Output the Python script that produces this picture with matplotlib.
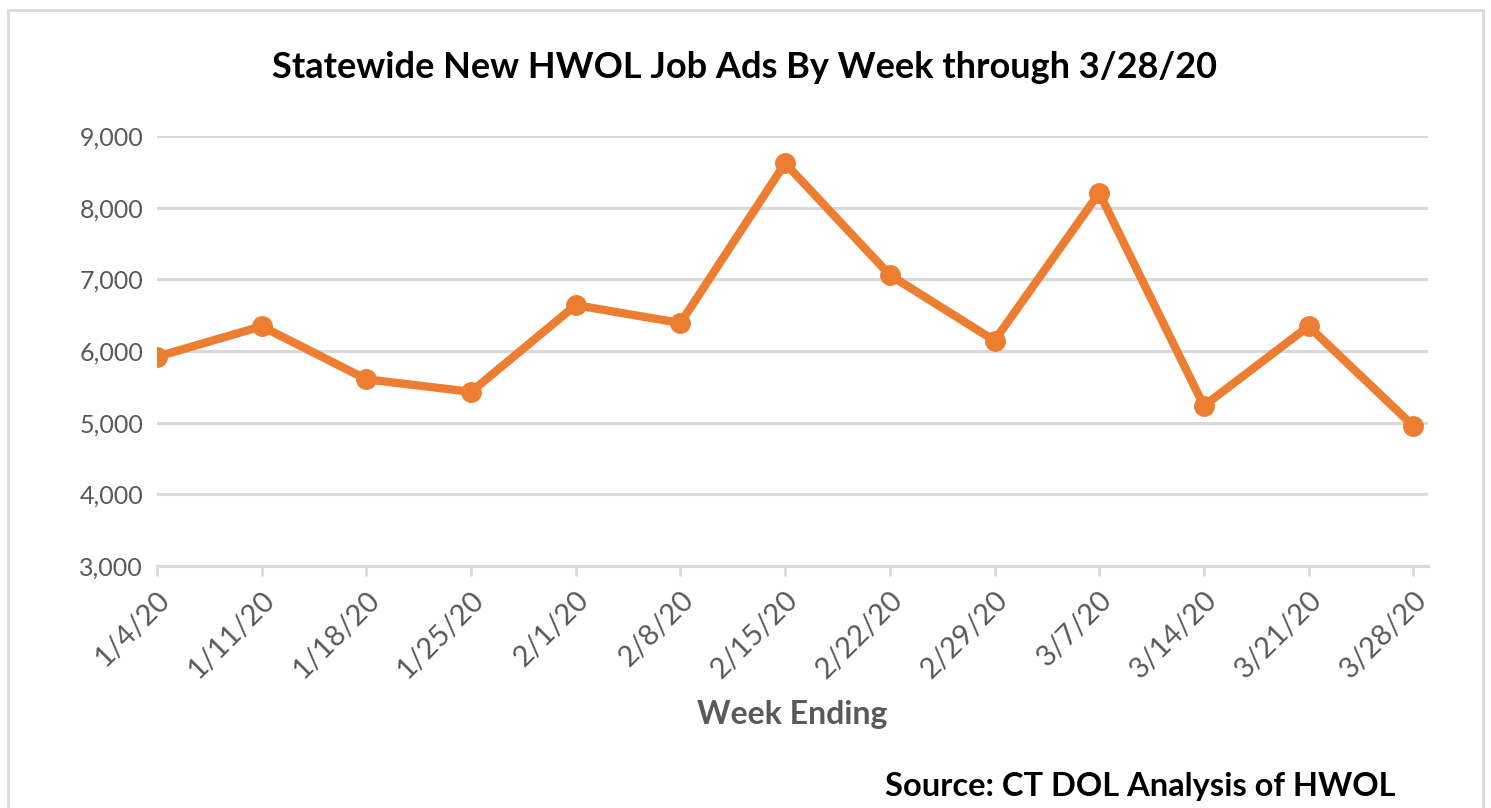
import matplotlib
matplotlib.use("Agg")
from matplotlib import pyplot as plt
from matplotlib.patches import Rectangle
from matplotlib.ticker import FuncFormatter

# data
weeks = ['1/4/20', '1/11/20', '1/18/20', '1/25/20', '2/1/20', '2/8/20', '2/15/20',
         '2/22/20', '2/29/20', '3/7/20', '3/14/20', '3/21/20', '3/28/20']
job_ads = [5920, 6345, 5605, 5430, 6640, 6390, 8620, 7060, 6145, 8205, 5235, 6345, 4955]

orange = '#ED7D31'
gray_text = '#595959'
grid_gray = '#D9D9D9'

plt.rcParams['font.family'] = ['Lato', 'DejaVu Sans']

fig = plt.figure(figsize=(14.91, 8.08), dpi=100)
ax = fig.add_axes([0.1053, 0.2995, 0.9577 - 0.1053, 0.8317 - 0.2995])

x = range(len(weeks))
ax.plot(x, job_ads, color=orange, linewidth=6, marker='o', markersize=14,
        solid_joinstyle='round', zorder=3)

ax.set_xlim(0, 12.14)
ax.set_ylim(3000, 9000)
ax.set_yticks(range(3000, 9001, 1000))
ax.yaxis.set_major_formatter(FuncFormatter(lambda v, p: '{:,.0f}'.format(v)))
ax.set_xticks(list(x))
ax.set_xticklabels(weeks, rotation=45, ha='right', rotation_mode='anchor')

ax.grid(axis='y', color=grid_gray, linewidth=2.2)
ax.set_axisbelow(True)
for s in ['top', 'right', 'left']:
    ax.spines[s].set_visible(False)
ax.spines['bottom'].set_color(grid_gray)
ax.spines['bottom'].set_linewidth(2.2)
ax.tick_params(axis='y', length=0, pad=10, labelsize=18, labelcolor=gray_text)
ax.tick_params(axis='x', length=7, width=2, color=grid_gray, pad=8,
               labelsize=21, labelcolor=gray_text)

ax.set_xlabel('Week Ending', fontsize=23, fontweight='bold', color=gray_text, labelpad=12)
fig.text(0.499, 0.916, 'Statewide New HWOL Job Ads By Week through 3/28/20',
         ha='center', va='center', fontsize=26, fontweight='bold', color='black')
fig.text(0.936, 0.027, 'Source: CT DOL Analysis of HWOL', ha='right', va='center',
         fontsize=23.5, fontweight='bold', color='black')

# chart border
fig.patches.append(Rectangle((8 / 1491, -0.02), 1475 / 1491, 1.02 - 10 / 808,
                             transform=fig.transFigure, fill=False,
                             edgecolor='#D9D9D9', linewidth=2))

plt.savefig('out.png', dpi=100)
